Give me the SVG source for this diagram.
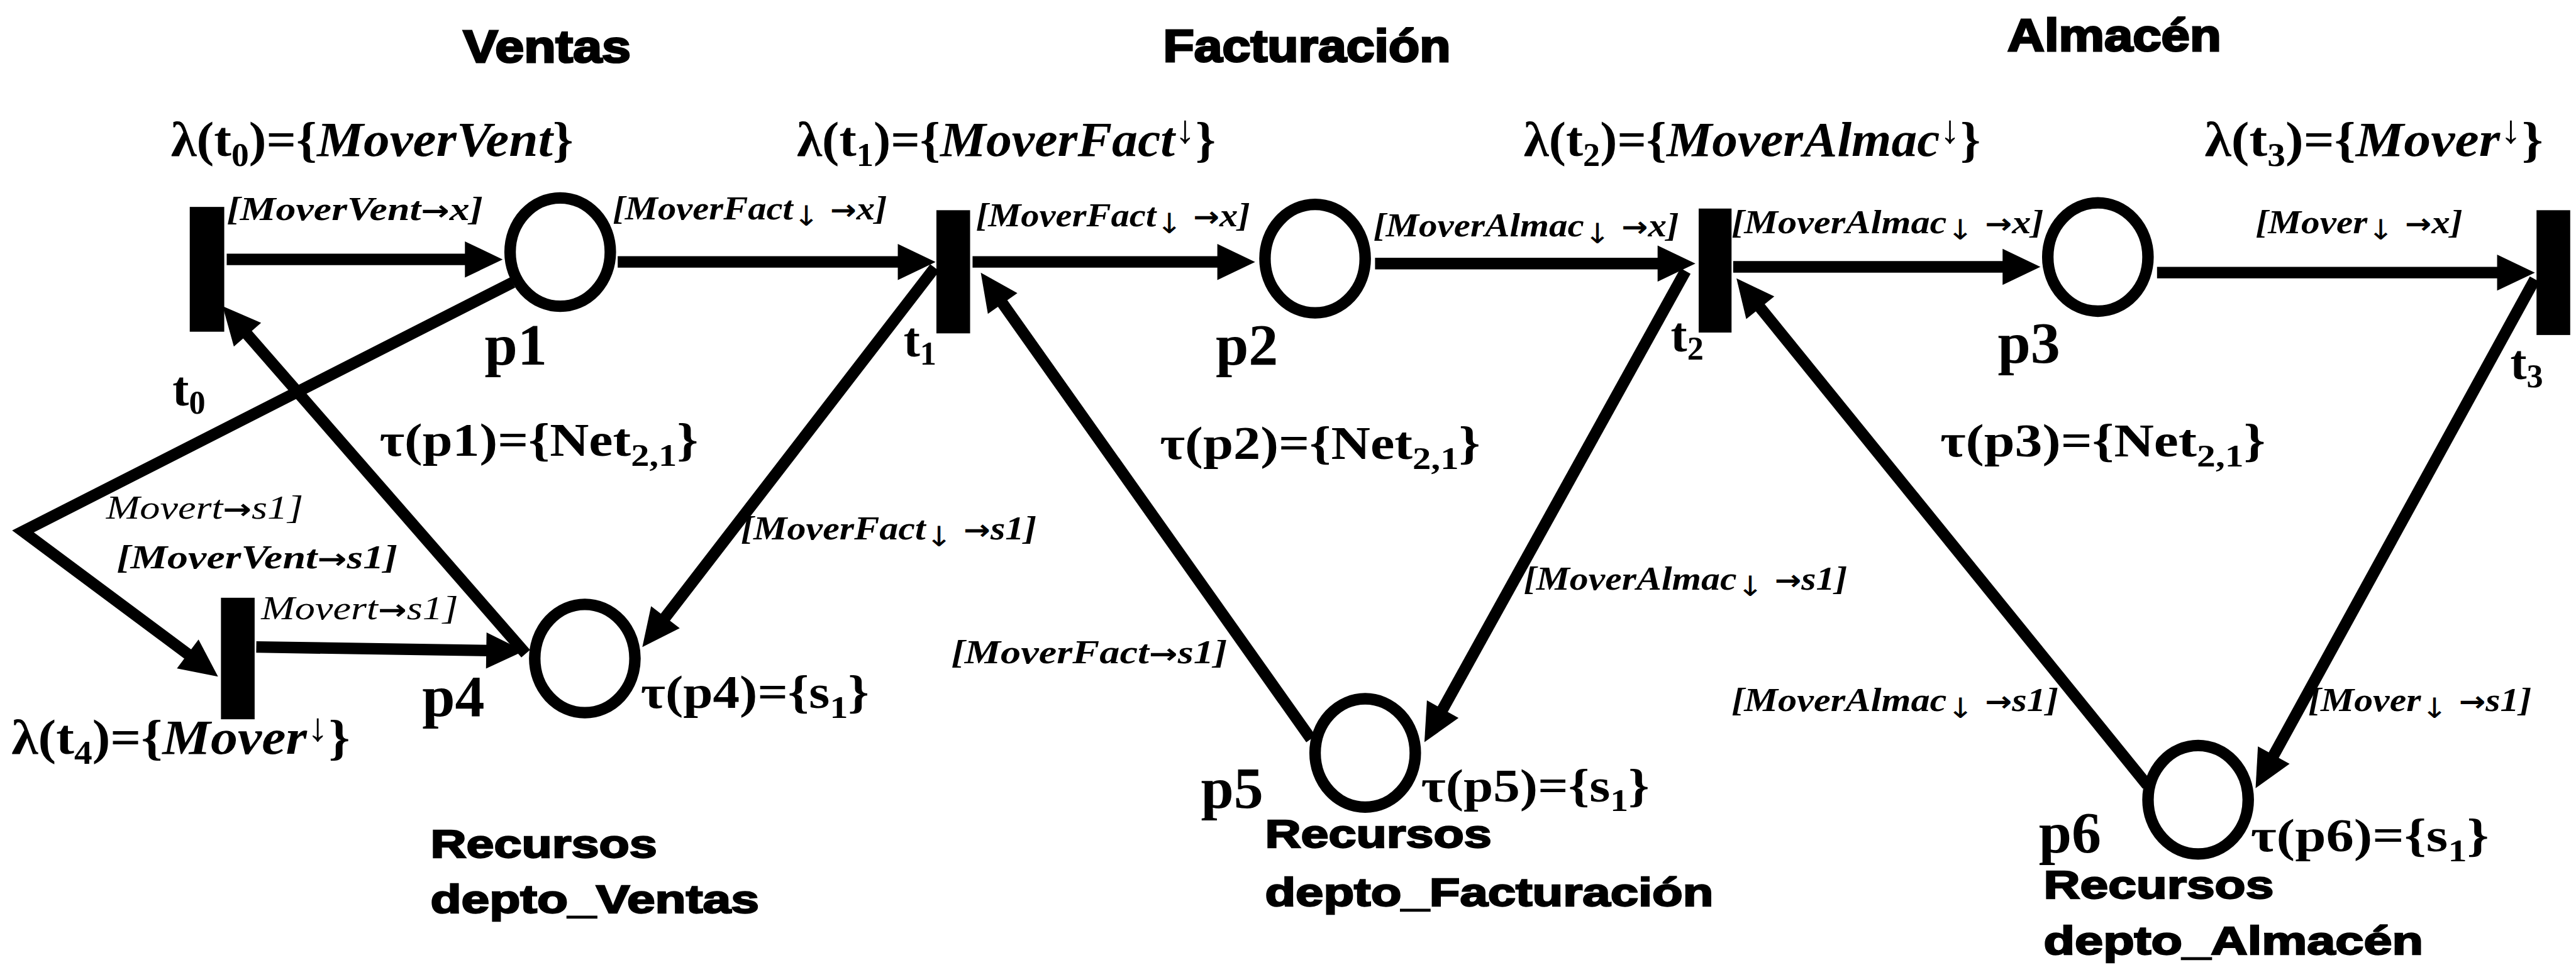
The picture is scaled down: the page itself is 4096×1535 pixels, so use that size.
<svg xmlns="http://www.w3.org/2000/svg" width="4096" height="1535" viewBox="0 0 4096 1535">
<defs>
<marker id="ah" markerUnits="userSpaceOnUse" markerWidth="24" markerHeight="24" viewBox="0 -12 24 24" refX="13" refY="0" orient="auto" overflow="visible"><path d="M0,-11 L23,0 L0,11 Z" fill="#000"/></marker>
<style>
.title{font-family:"Liberation Sans",Arial,sans-serif;font-weight:bold;font-size:28px;fill:#000;stroke:#000;stroke-width:1.2px}
.res{font-family:"Liberation Sans",Arial,sans-serif;font-weight:bold;font-size:24px;fill:#000;stroke:#000;stroke-width:0.9px}
.serif{font-family:"Liberation Serif","Times New Roman",serif;font-weight:bold;fill:#000}
.lam{font-size:30px}
.tau{font-size:28px}
.pl{font-size:36px}
.tn{font-size:30px}
.arc{font-family:"Liberation Serif","Times New Roman",serif;font-weight:bold;font-style:italic;font-size:20px;fill:#000}
.arcr{font-weight:normal}
.it{font-style:italic}
.ar{font-family:"DejaVu Sans",sans-serif;font-weight:bold;font-style:normal;font-size:17px}
.dn{font-family:"DejaVu Sans",sans-serif;font-weight:normal;font-style:normal;font-size:17px}
.up{font-weight:normal;font-style:normal;font-size:24px}
.place{fill:#fff;stroke:#000;stroke-width:7}
.trans{fill:#000}
.conn{fill:none;stroke:#000;stroke-width:7;stroke-linejoin:miter;marker-end:url(#ah)}
</style>
</defs>
<rect x="0" y="0" width="4096" height="1535" fill="#fff"/>
<g transform="scale(2.6122)">
<g id="titles">
<text class="title" x="282" y="38" textLength="102" lengthAdjust="spacingAndGlyphs">Ventas</text>
<text class="title" x="708" y="37.5" textLength="175" lengthAdjust="spacingAndGlyphs">Facturación</text>
<text class="title" x="1222" y="31" textLength="130" lengthAdjust="spacingAndGlyphs">Almacén</text>
</g>
<g id="connectors">
<path id="c-t0-p1" class="conn" d="M138,158 H296"/>
<path id="c-p1-t1" class="conn" d="M376,159.5 H559.5"/>
<path id="c-t1-p2" class="conn" d="M592,159.5 H754"/>
<path id="c-p2-t2" class="conn" d="M837,160.5 H1022"/>
<path id="c-t2-p3" class="conn" d="M1055,162.5 H1232"/>
<path id="c-p3-t3" class="conn" d="M1313,166 H1533"/>
<path id="c-p1-t4" class="conn" d="M312,172 L14,323.6 L124.7,406"/>
<path id="c-p4-t0" class="conn" d="M320,398 L142.1,194"/>
<path id="c-t4-p4" class="conn" d="M156,394 L309,396.3"/>
<path id="c-t1-p4" class="conn" d="M569,163 L397.1,386.1"/>
<path id="c-p5-t1" class="conn" d="M798,450 L602.8,174.2"/>
<path id="c-t2-p5" class="conn" d="M1026,165 L871.9,443.2"/>
<path id="c-p6-t2" class="conn" d="M1307,478 L1063.3,177.3"/>
<path id="c-t3-p6" class="conn" d="M1543,170 L1377.8,471.2"/>
</g>
<g id="connector-labels">
<text class="arc" x="138" y="134" textLength="156" lengthAdjust="spacingAndGlyphs">[MoverVent<tspan class="ar">→</tspan>x]</text>
<text class="arc" x="373" y="133.5" textLength="167" lengthAdjust="spacingAndGlyphs">[MoverFact<tspan class="dn" dy="4">↓</tspan><tspan class="ar" dy="-4"> →</tspan>x]</text>
<text class="arc" x="594" y="138" textLength="167" lengthAdjust="spacingAndGlyphs">[MoverFact<tspan class="dn" dy="4">↓</tspan><tspan class="ar" dy="-4"> →</tspan>x]</text>
<text class="arc" x="836" y="144" textLength="186" lengthAdjust="spacingAndGlyphs">[MoverAlmac<tspan class="dn" dy="4">↓</tspan><tspan class="ar" dy="-4"> →</tspan>x]</text>
<text class="arc" x="1054" y="142" textLength="190" lengthAdjust="spacingAndGlyphs">[MoverAlmac<tspan class="dn" dy="4">↓</tspan><tspan class="ar" dy="-4"> →</tspan>x]</text>
<text class="arc" x="1373" y="142" textLength="126" lengthAdjust="spacingAndGlyphs">[Mover<tspan class="dn" dy="4">↓</tspan><tspan class="ar" dy="-4"> →</tspan>x]</text>
<text class="arc arcr" x="64.6" y="316" textLength="120" lengthAdjust="spacingAndGlyphs">Movert<tspan class="ar">→</tspan>s1]</text>
<text class="arc" x="71" y="346" textLength="171" lengthAdjust="spacingAndGlyphs">[MoverVent<tspan class="ar">→</tspan>s1]</text>
<text class="arc arcr" x="159" y="377" textLength="120" lengthAdjust="spacingAndGlyphs">Movert<tspan class="ar">→</tspan>s1]</text>
<text class="arc" x="451" y="328.5" textLength="180" lengthAdjust="spacingAndGlyphs">[MoverFact<tspan class="dn" dy="4">↓</tspan><tspan class="ar" dy="-4"> →</tspan>s1]</text>
<text class="arc" x="579" y="404" textLength="168" lengthAdjust="spacingAndGlyphs">[MoverFact<tspan class="ar">→</tspan>s1]</text>
<text class="arc" x="927.5" y="359" textLength="197" lengthAdjust="spacingAndGlyphs">[MoverAlmac<tspan class="dn" dy="4">↓</tspan><tspan class="ar" dy="-4"> →</tspan>s1]</text>
<text class="arc" x="1054" y="433" textLength="199" lengthAdjust="spacingAndGlyphs">[MoverAlmac<tspan class="dn" dy="4">↓</tspan><tspan class="ar" dy="-4"> →</tspan>s1]</text>
<text class="arc" x="1405" y="433" textLength="136" lengthAdjust="spacingAndGlyphs">[Mover<tspan class="dn" dy="4">↓</tspan><tspan class="ar" dy="-4"> →</tspan>s1]</text>
</g>
<g id="t0">
<rect class="trans" x="115.5" y="126" width="21" height="76"/>
<text class="serif tn" x="105" y="247">t<tspan font-size="20" dy="5">0</tspan></text>
<text class="serif lam" x="104" y="95" textLength="245" lengthAdjust="spacingAndGlyphs">λ(t<tspan font-size="20" dy="6">0</tspan><tspan dy="-6">)={</tspan><tspan class="it">MoverVent</tspan>}</text>
</g>
<g id="t1">
<rect class="trans" x="570" y="128" width="20.5" height="75"/>
<text class="serif tn" x="550" y="217">t<tspan font-size="20" dy="5">1</tspan></text>
<text class="serif lam" x="485" y="95" textLength="255" lengthAdjust="spacingAndGlyphs">λ(t<tspan font-size="20" dy="6">1</tspan><tspan dy="-6">)={</tspan><tspan class="it">MoverFact</tspan><tspan class="up" dy="-8">↓</tspan><tspan dy="8">}</tspan></text>
</g>
<g id="t2">
<rect class="trans" x="1034" y="127" width="20" height="75.5"/>
<text class="serif tn" x="1017" y="214">t<tspan font-size="20" dy="5">2</tspan></text>
<text class="serif lam" x="927.5" y="95" textLength="278" lengthAdjust="spacingAndGlyphs">λ(t<tspan font-size="20" dy="6">2</tspan><tspan dy="-6">)={</tspan><tspan class="it">MoverAlmac</tspan><tspan class="up" dy="-8">↓</tspan><tspan dy="8">}</tspan></text>
</g>
<g id="t3">
<rect class="trans" x="1544" y="128" width="20.5" height="76"/>
<text class="serif tn" x="1528" y="231">t<tspan font-size="20" dy="5">3</tspan></text>
<text class="serif lam" x="1342" y="95" textLength="206" lengthAdjust="spacingAndGlyphs">λ(t<tspan font-size="20" dy="6">3</tspan><tspan dy="-6">)={</tspan><tspan class="it">Mover</tspan><tspan class="up" dy="-8">↓</tspan><tspan dy="8">}</tspan></text>
</g>
<g id="t4">
<rect class="trans" x="134.5" y="364" width="20.5" height="74"/>
<text class="serif lam" x="7" y="459" textLength="206" lengthAdjust="spacingAndGlyphs">λ(t<tspan font-size="20" dy="6">4</tspan><tspan dy="-6">)={</tspan><tspan class="it">Mover</tspan><tspan class="up" dy="-8">↓</tspan><tspan dy="8">}</tspan></text>
</g>
<g id="p1">
<ellipse class="place" cx="341" cy="153.5" rx="30.5" ry="33"/>
<text class="serif pl" x="295" y="222">p1</text>
<text class="serif tau" x="231" y="277.5" textLength="194" lengthAdjust="spacingAndGlyphs">τ(p1)={Net<tspan font-size="19" dy="6">2,1</tspan><tspan dy="-6">}</tspan></text>
</g>
<g id="p2">
<ellipse class="place" cx="800.5" cy="157.5" rx="30.5" ry="33"/>
<text class="serif pl" x="740" y="222">p2</text>
<text class="serif tau" x="706" y="279.5" textLength="195" lengthAdjust="spacingAndGlyphs">τ(p2)={Net<tspan font-size="19" dy="6">2,1</tspan><tspan dy="-6">}</tspan></text>
</g>
<g id="p3">
<ellipse class="place" cx="1277" cy="156.5" rx="30.5" ry="33"/>
<text class="serif pl" x="1216" y="221">p3</text>
<text class="serif tau" x="1181" y="278" textLength="198" lengthAdjust="spacingAndGlyphs">τ(p3)={Net<tspan font-size="19" dy="6">2,1</tspan><tspan dy="-6">}</tspan></text>
</g>
<g id="p4">
<ellipse class="place" cx="356" cy="401" rx="30.5" ry="33"/>
<text class="serif pl" x="257" y="436">p4</text>
<text class="serif tau" x="390" y="431" textLength="139" lengthAdjust="spacingAndGlyphs">τ(p4)={s<tspan font-size="19" dy="6">1</tspan><tspan dy="-6">}</tspan></text>
<text class="res" x="262" y="522" textLength="138" lengthAdjust="spacingAndGlyphs">Recursos</text>
<text class="res" x="262" y="556" textLength="200" lengthAdjust="spacingAndGlyphs">depto_Ventas</text>
</g>
<g id="p5">
<ellipse class="place" cx="831" cy="458.5" rx="30.5" ry="33"/>
<text class="serif pl" x="731" y="492">p5</text>
<text class="serif tau" x="865" y="488" textLength="139" lengthAdjust="spacingAndGlyphs">τ(p5)={s<tspan font-size="19" dy="6">1</tspan><tspan dy="-6">}</tspan></text>
<text class="res" x="770" y="516" textLength="138" lengthAdjust="spacingAndGlyphs">Recursos</text>
<text class="res" x="770" y="551.5" textLength="273" lengthAdjust="spacingAndGlyphs">depto_Facturación</text>
</g>
<g id="p6">
<ellipse class="place" cx="1338" cy="487" rx="30.5" ry="33"/>
<text class="serif pl" x="1241" y="519">p6</text>
<text class="serif tau" x="1370" y="518.5" textLength="145" lengthAdjust="spacingAndGlyphs">τ(p6)={s<tspan font-size="19" dy="6">1</tspan><tspan dy="-6">}</tspan></text>
<text class="res" x="1244" y="547" textLength="140" lengthAdjust="spacingAndGlyphs">Recursos</text>
<text class="res" x="1244" y="581" textLength="231" lengthAdjust="spacingAndGlyphs">depto_Almacén</text>
</g>
</g>
</svg>
